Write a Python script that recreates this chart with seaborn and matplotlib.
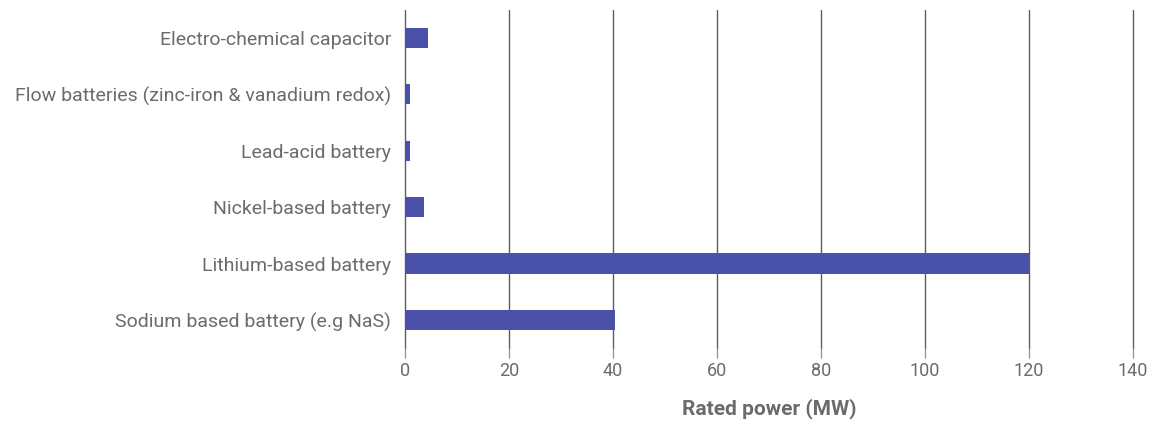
import matplotlib
matplotlib.use("Agg")
import matplotlib.pyplot as plt
import pandas as pd
import seaborn as sns

categories = [
    "Electro-chemical capacitor",
    "Flow batteries (zinc-iron & vanadium redox)",
    "Lead-acid battery",
    "Nickel-based battery",
    "Lithium-based battery",
    "Sodium based battery (e.g NaS)",
]
rated_power = [4.5, 1.0, 1.0, 3.7, 120.0, 40.5]
x_ticks = [0, 20, 40, 60, 80, 100, 120, 140]

sns.set_theme(style="white")
plt.rcParams["font.family"] = ["Roboto", "DejaVu Sans"]

df = pd.DataFrame({"technology": categories, "power": rated_power})

fig = plt.figure(figsize=(11.57, 4.23), dpi=100)
ax = fig.add_axes([0.35, 0.177, 0.629, 0.80])
sns.barplot(data=df, x="power", y="technology", color="#4a51a8", saturation=1,
            width=0.36, edgecolor="none", linewidth=0, ax=ax)

ax.set_xlim(0, 140)
ax.set_xticks(x_ticks)
ax.grid(axis="x", color="#5e5e5e", linewidth=1.0)
for line in ax.get_xgridlines():
    line.set_clip_on(False)
ax.set_axisbelow(True)
for side in ["top", "right", "bottom", "left"]:
    ax.spines[side].set_visible(False)

text_color = "#6b6b6b"
ax.tick_params(axis="x", colors="#999999", labelcolor=text_color, labelsize=13,
               length=7, width=1, pad=3, bottom=True)
ax.tick_params(axis="y", labelcolor=text_color, labelsize=14, length=0, pad=10)
ax.set_ylabel("")
ax.set_xlabel("Rated power (MW)", color=text_color, fontsize=15, fontweight="bold",
              labelpad=13)

fig.savefig("out.png", dpi=100)
